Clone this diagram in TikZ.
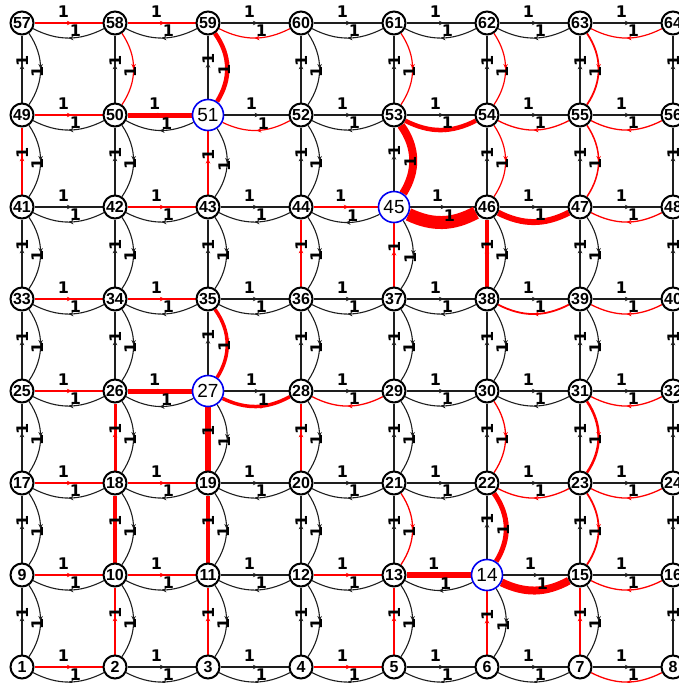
\documentclass[tikz,border=0pt]{standalone}
\usepackage{fontspec}
\setmainfont{Liberation Sans}
\newfontfamily\wtfont{DejaVu Sans}
\usetikzlibrary{arrows.meta,decorations.markings,backgrounds}
\definecolor{linkgray}{HTML}{1E1E1E}
\definecolor{pathred}{HTML}{FF0000}
\definecolor{srcblue}{HTML}{0000F0}

% edges used by the shortest paths: red, wider when more paths share them
\tikzset{
  onpath/.style={color=pathred, line width=#1},
  % sources
  n51/.style={srcnode}, n45/.style={srcnode}, n27/.style={srcnode}, n14/.style={srcnode},
  % straight links (low -> high)
  e1-2/.style={onpath=1.3pt}, e4-5/.style={onpath=1.3pt},
  e2-10/.style={onpath=1.3pt}, e3-11/.style={onpath=1.3pt}, e5-13/.style={onpath=2pt},
  e6-14/.style={onpath=1.3pt}, e7-15/.style={onpath=1.8pt},
  e9-10/.style={onpath=1.3pt}, e10-11/.style={onpath=1.3pt}, e12-13/.style={onpath=1.3pt},
  e13-14/.style={onpath=5.5pt},
  e10-18/.style={onpath=3.5pt}, e11-19/.style={onpath=4pt},
  e17-18/.style={onpath=1.3pt}, e18-19/.style={onpath=1.8pt},
  e18-26/.style={onpath=3pt}, e19-27/.style={onpath=6.5pt}, e20-28/.style={onpath=1.3pt},
  e25-26/.style={onpath=1.3pt}, e26-27/.style={onpath=5pt},
  e33-34/.style={onpath=1.3pt}, e34-35/.style={onpath=1.8pt},
  e36-44/.style={onpath=1.3pt}, e37-45/.style={onpath=1.3pt}, e38-46/.style={onpath=4.5pt},
  e42-43/.style={onpath=1.3pt}, e44-45/.style={onpath=1.3pt},
  e41-49/.style={onpath=1.5pt}, e43-51/.style={onpath=1.8pt},
  e49-50/.style={onpath=1.3pt}, e50-51/.style={onpath=5pt},
  e57-58/.style={onpath=1.3pt}, e58-59/.style={onpath=1.3pt},
  % curved links (high -> low)
  e8-7/.style={onpath=1.3pt},
  e15-14/.style={onpath=8pt}, e16-15/.style={onpath=1.3pt},
  e21-13/.style={onpath=1.3pt}, e22-14/.style={onpath=5pt}, e23-15/.style={onpath=1.8pt},
  e23-22/.style={onpath=1.3pt}, e24-23/.style={onpath=1.3pt},
  e30-22/.style={onpath=1.3pt}, e31-23/.style={onpath=2.5pt},
  e28-27/.style={onpath=3.5pt}, e29-28/.style={onpath=1.3pt}, e32-31/.style={onpath=1.3pt},
  e35-27/.style={onpath=3.5pt},
  e39-38/.style={onpath=1.8pt}, e40-39/.style={onpath=1.3pt},
  e46-45/.style={onpath=13pt}, e47-46/.style={onpath=6pt}, e48-47/.style={onpath=1.3pt},
  e53-45/.style={onpath=8pt}, e54-46/.style={onpath=1.2pt}, e55-47/.style={onpath=1.5pt},
  e52-51/.style={onpath=1.2pt}, e54-53/.style={onpath=4.5pt},
  e55-54/.style={onpath=1.3pt}, e56-55/.style={onpath=1.3pt},
  e58-50/.style={onpath=1.2pt}, e59-51/.style={onpath=4.5pt}, e61-53/.style={onpath=1.2pt},
  e62-54/.style={onpath=1.2pt}, e63-55/.style={onpath=1.8pt},
  e60-59/.style={onpath=1.2pt}, e64-63/.style={onpath=1.2pt},
}

\begin{document}
\begin{tikzpicture}[x=1pt, y=1pt,
  vtx/.style={circle, draw=black, line width=2pt, fill=white, text=black, inner sep=0pt,
    minimum size=23pt, font=\bfseries\fontsize{16}{16}\selectfont},
  srcnode/.style={vtx, draw=srcblue, line width=1.6pt, minimum size=31pt, font=\fontsize{19}{19}\selectfont},
  linkfw/.style={color=linkgray, line width=1.6pt},
  linkbk/.style={color=linkgray, line width=1.1pt},
  midtip/.style={postaction={decorate}, decoration={markings,
    mark=at position #1 with {\arrow{Stealth[length=5pt,width=4.5pt]}}}},
  wt/.style={font=\wtfont\bfseries\fontsize{16}{16}\selectfont, text=black, inner sep=0pt},
]
\useasboundingbox (0,0) rectangle (679,-683);
\clip (0,0) rectangle (679,-683);

% --- vertices, 1 at bottom left, 64 at top right ---
\foreach \n in {1,...,64}{
  \pgfmathtruncatemacro\cx{mod(\n-1,8)}
  \pgfmathtruncatemacro\ry{div(\n-1,8)}
  \edef\sty{n\n}\pgfkeysifdefined{/tikz/\sty/.@cmd}{}{\def\sty{vtx}}
  \node[\sty] (v\n) at (22+93*\cx, -667+92*\ry) {\n};
}

% --- links: straight one way, curved the way back ---
\begin{scope}[on background layer]
\clip (0,0) rectangle (679,-683);
\foreach \n in {1,...,64}{
  \pgfmathtruncatemacro\cx{mod(\n-1,8)}
  \pgfmathtruncatemacro\ry{div(\n-1,8)}
  \ifnum\cx<7
    \pgfmathtruncatemacro\m{\n+1}
    \edef\fw{e\n-\m}\pgfkeysifdefined{/tikz/\fw/.@cmd}{}{\def\fw{linkfw}}
    \edef\bw{e\m-\n}\pgfkeysifdefined{/tikz/\bw/.@cmd}{}{\def\bw{linkbk}}
    \draw[linkfw, \fw, midtip=.55] (v\n) -- node[wt, xshift=-5pt, yshift=11pt]{1} (v\m);
    \draw[linkbk, \bw, midtip=.5] (v\m) to[bend left=27] node[wt, xshift=7pt, yshift=7pt]{1} (v\n);
  \fi
  \ifnum\ry<7
    \pgfmathtruncatemacro\m{\n+8}
    \edef\fw{e\n-\m}\pgfkeysifdefined{/tikz/\fw/.@cmd}{}{\def\fw{linkfw}}
    \edef\bw{e\m-\n}\pgfkeysifdefined{/tikz/\bw/.@cmd}{}{\def\bw{linkbk}}
    \draw[linkfw, \fw, midtip=.57] (v\n) -- node[wt, xshift=1pt, yshift=8pt, rotate=90]{1} (v\m);
    \draw[linkbk, \bw, midtip=.5] (v\m) to[bend left=34] node[wt, xshift=-3pt, yshift=-3pt, rotate=90]{1} (v\n);
  \fi
}
\end{scope}
\end{tikzpicture}
\end{document}
